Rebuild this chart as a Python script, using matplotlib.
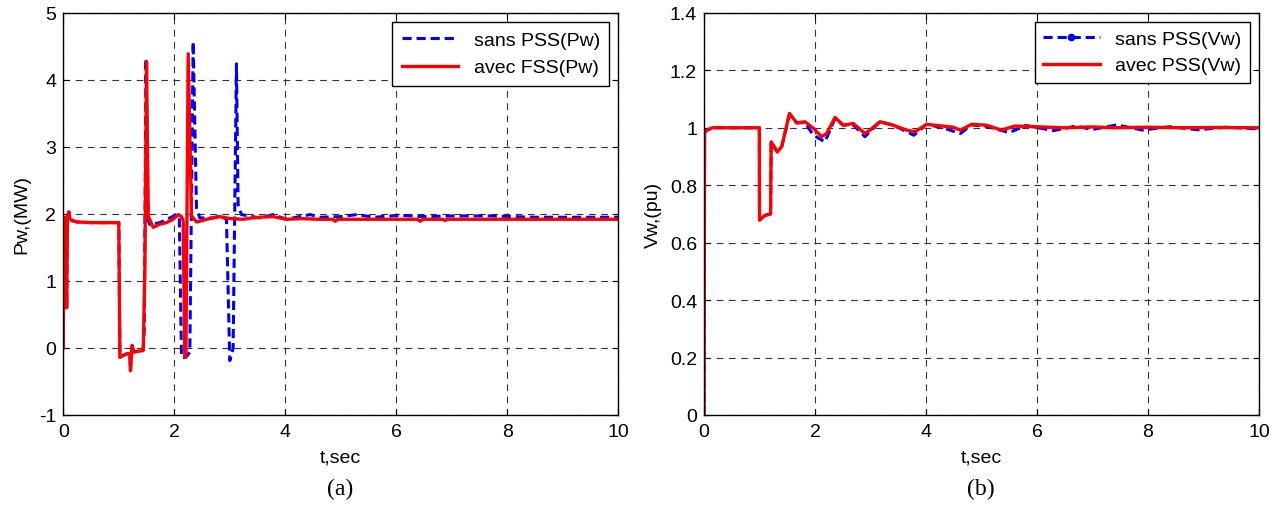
# Wind generator response with and without PSS - two panel figure
import matplotlib.pyplot as plt
from matplotlib.lines import Line2D

# ----------------------------------------
# Data
# ----------------------------------------
# (a) active power Pw, MW
t_pw_avec = [0, 0.005, 0.01, 0.03, 0.045, 0.06, 0.075, 0.1, 0.12, 0.16, 0.25, 0.5, 0.8,
             1.0, 1.02, 1.08, 1.17, 1.2, 1.21, 1.24, 1.27, 1.35, 1.44, 1.47, 1.5, 1.53,
             1.62, 1.75, 1.86, 1.98, 2.07, 2.13, 2.16, 2.19, 2.21, 2.25, 2.31, 2.4, 2.5,
             2.58, 2.7, 2.82, 3.0, 3.24, 3.4, 3.54, 3.78, 4.02, 4.3, 4.6, 4.85, 4.9,
             4.95, 5.4, 6.0, 6.38, 6.43, 6.48, 6.84, 6.88, 6.92, 7.5, 8.5, 10]
pw_avec = [0, 1.95, 1.9, 0.6, 1.95, 0.6, 1.95, 2.03, 1.93, 1.9, 1.88, 1.87, 1.87,
           1.87, -0.14, -0.11, -0.08, -0.1, -0.34, 0.04, -0.06, -0.05, -0.04, 1.2, 4.27, 1.97,
           1.8, 1.85, 1.87, 1.92, 1.99, 1.96, 1.9, -0.14, -0.12, 4.39, 1.97, 1.88, 1.9,
           1.92, 1.94, 1.96, 1.93, 1.92, 1.94, 1.95, 1.96, 1.92, 1.93, 1.92, 1.92, 1.89,
           1.92, 1.92, 1.92, 1.92, 1.89, 1.92, 1.92, 1.9, 1.92, 1.92, 1.92, 1.92]

t_pw_sans = [0, 0.005, 0.01, 0.03, 0.045, 0.06, 0.075, 0.1, 0.12, 0.16, 0.25, 0.5, 0.8,
             1.0, 1.02, 1.08, 1.17, 1.2, 1.21, 1.24, 1.27, 1.35, 1.44, 1.46, 1.49, 1.53,
             1.56, 1.74, 1.92, 2.04, 2.09, 2.13, 2.21, 2.28, 2.34, 2.4, 2.46, 2.7, 2.82,
             2.94, 3.0, 3.06, 3.12, 3.15, 3.21, 3.54, 3.78, 4.02, 4.2, 4.45, 4.62, 5.0,
             5.29, 5.6, 6.07, 6.5, 7.0, 7.7, 8.5, 10]
pw_sans = [0, 1.95, 1.9, 0.6, 1.95, 0.6, 1.95, 2.03, 1.93, 1.9, 1.88, 1.87, 1.87,
           1.87, -0.14, -0.11, -0.08, -0.1, -0.34, 0.04, -0.06, -0.05, -0.04, 0.3, 4.32, 1.9,
           1.84, 1.87, 1.94, 1.99, 1.95, -0.14, -0.14, -0.06, 4.57, 2.09, 1.94, 1.94, 1.97,
           1.92, -0.19, -0.01, 4.24, 2.14, 1.99, 1.94, 1.99, 1.92, 1.95, 1.99, 1.95, 1.96,
           1.99, 1.95, 1.98, 1.96, 1.97, 1.97, 1.95, 1.95]

# (b) terminal voltage Vw, pu
t_vw_avec = [0, 0.01, 0.03, 0.15, 0.5, 0.997, 1.0, 1.1, 1.2, 1.21, 1.32, 1.4, 1.54,
             1.67, 1.82, 1.97, 2.12, 2.21, 2.36, 2.51, 2.69, 2.9, 2.99, 3.17, 3.41,
             3.65, 3.8, 4.01, 4.49, 4.62, 4.82, 5.09, 5.36, 5.6, 5.93, 6.5, 7.0, 7.4,
             8.0, 8.6, 9.2, 10]
vw_avec = [0, 0.98, 0.99, 1.0, 1.0, 1.0, 0.678, 0.695, 0.70, 0.951, 0.916, 0.934, 1.05,
           1.017, 1.021, 0.998, 0.969, 0.98, 1.036, 1.009, 1.015, 0.98, 0.992, 1.021, 1.009,
           0.992, 0.986, 1.012, 1.002, 0.992, 1.012, 1.009, 0.992, 1.006, 1.004, 1.0, 1.003,
           1.0, 1.002, 1.0, 1.001, 1.0]

t_vw_sans = [0, 0.01, 0.03, 0.15, 0.5, 0.997, 1.0, 1.1, 1.2, 1.21, 1.32, 1.4, 1.54,
             1.67, 1.82, 1.97, 2.18, 2.36, 2.51, 2.69, 2.9, 3.17, 3.41, 3.78, 4.01,
             4.3, 4.62, 4.82, 5.09, 5.5, 5.8, 6.3, 6.7, 7.0, 7.44, 7.9, 8.4, 8.9,
             9.4, 10]
vw_sans = [0, 0.98, 0.99, 1.0, 1.0, 1.0, 0.678, 0.695, 0.70, 0.951, 0.916, 0.934, 1.045,
           1.017, 1.018, 0.974, 0.951, 1.033, 1.009, 1.01, 0.969, 1.021, 1.009,
           0.974, 1.012, 1.0, 0.98, 1.01, 1.005, 0.983, 1.008, 0.99, 1.006, 0.994, 1.01,
           0.992, 1.004, 0.993, 1.002, 0.996]

x_ticks = [0, 2, 4, 6, 8, 10]
pw_ticks = [-1, 0, 1, 2, 3, 4, 5]
vw_ticks = [0, 0.2, 0.4, 0.6, 0.8, 1, 1.2, 1.4]

# ----------------------------------------
# Figure
# ----------------------------------------
plt.rcParams["font.family"] = ["Liberation Sans", "DejaVu Sans"]
plt.rcParams["font.size"] = 14

fig = plt.figure(figsize=(12.84, 5.06), dpi=100)
ax1 = fig.add_axes([0.0493, 0.178, 0.4322, 0.7945])
ax2 = fig.add_axes([0.5483, 0.178, 0.4322, 0.7945])

blue = "#0000FF"
red = "#FF0000"

def style_axes(ax, yticks, ylabel):
    ax.set_xlim(0, 10)
    ax.set_ylim(yticks[0], yticks[-1])
    ax.set_xticks(x_ticks)
    ax.set_yticks(yticks)
    ax.set_yticklabels([f"{v:g}" for v in yticks])
    ax.tick_params(direction="in", top=True, right=True, length=4, labelsize=14)
    ax.tick_params(axis="x", pad=6)
    ax.tick_params(axis="y", pad=5)
    ax.grid(True, color="#333333", linestyle=(0, (6, 5)), linewidth=0.8)
    ax.set_xlabel("t,sec", fontsize=14, labelpad=6)
    ax.set_ylabel(ylabel, fontsize=14, labelpad=6)
    for s in ax.spines.values():
        s.set_linewidth(1.0)

# (a) Pw
ax1.plot(t_pw_sans, pw_sans, color=blue, linestyle=(0, (3, 1.6)), linewidth=2.2,
         label="sans PSS(Pw)")
ax1.plot(t_pw_avec, pw_avec, color=red, linewidth=2.4, label="avec FSS(Pw)")
style_axes(ax1, pw_ticks, "Pw,(MW)")
leg1 = ax1.legend(loc="upper right", fontsize=14, fancybox=False, framealpha=1,
                  edgecolor="black", handlelength=2.9, borderaxespad=0.45,
                  labelspacing=0.5, borderpad=0.5)
leg1.get_frame().set_linewidth(1.0)

# (b) Vw
ax2.plot(t_vw_sans, vw_sans, color=blue, linestyle=(0, (3, 1.6)), linewidth=2.2)
ax2.plot(t_vw_avec, vw_avec, color=red, linewidth=2.4)
style_axes(ax2, vw_ticks, "Vw,(pu)")
handles = [
    Line2D([], [], color=blue, linestyle=(0, (3, 1.6)), linewidth=2.2, marker=".",
           markersize=9),
    Line2D([], [], color=red, linewidth=2.4),
]
leg2 = ax2.legend(handles, ["sans PSS(Vw)", "avec PSS(Vw)"], loc="upper right",
                  fontsize=14, fancybox=False, framealpha=1, edgecolor="black",
                  handlelength=2.9, borderaxespad=0.45, labelspacing=0.45,
                  borderpad=0.45)
leg2.get_frame().set_linewidth(1.0)

# captions
fig.text(0.265, 0.032, "(a)", ha="center", va="center", fontsize=17,
         family=["Liberation Serif", "DejaVu Serif"])
fig.text(0.764, 0.032, "(b)", ha="center", va="center", fontsize=17,
         family=["Liberation Serif", "DejaVu Serif"])

plt.savefig("out.png", dpi=100)
plt.close()
